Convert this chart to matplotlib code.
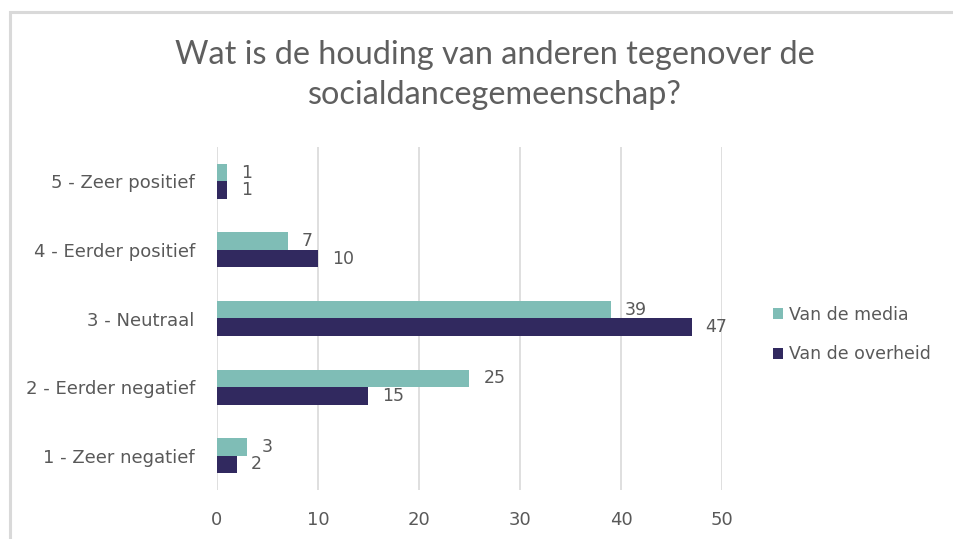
import matplotlib
matplotlib.use("Agg")
import matplotlib.pyplot as plt
from matplotlib.patches import Rectangle
import numpy as np

categories = ["1 - Zeer negatief", "2 - Eerder negatief", "3 - Neutraal",
              "4 - Eerder positief", "5 - Zeer positief"]
media = [3, 25, 39, 7, 1]
overheid = [2, 15, 47, 10, 1]
series_names = ["Van de media", "Van de overheid"]
xticks = [0, 10, 20, 30, 40, 50]

TEAL = "#7fbdb6"
NAVY = "#31295f"
GREY = "#595959"

plt.rcParams["font.family"] = ["DejaVu Sans"]

fig = plt.figure(figsize=(9.54, 5.39), dpi=100)
fig.patches.append(Rectangle((10 / 954, -0.1), 1.2, 1 - 12 / 539 + 0.1,
                             transform=fig.transFigure, fill=False,
                             edgecolor="#d9d9d9", lw=2.2))

ax = fig.add_axes([217 / 954, 1 - 490 / 539, 505 / 954, 343 / 539])
y = np.arange(len(categories))
h = 0.255
b1 = ax.barh(y + h / 2, media, height=h, color=TEAL, label=series_names[0])
b2 = ax.barh(y - h / 2, overheid, height=h, color=NAVY, label=series_names[1])

for bars, vals in ((b1, media), (b2, overheid)):
    for bar, v in zip(bars, vals):
        ax.annotate(str(v), (v, bar.get_y() + bar.get_height() / 2),
                    xytext=(10, 0), textcoords="offset points",
                    ha="left", va="center", fontsize=12.5, color=GREY)

ax.set_xlim(0, 50)
ax.set_ylim(-0.5, len(categories) - 0.5)
ax.set_yticks(y)
ax.set_yticklabels(categories)
ax.set_xticks(xticks)
ax.tick_params(axis="both", length=0, labelsize=13, colors=GREY)
ax.tick_params(axis="y", pad=16)
ax.tick_params(axis="x", pad=15)
for s in ax.spines.values():
    s.set_visible(False)
ax.grid(axis="x", color="#d9d9d9", lw=1.2)
ax.set_axisbelow(True)

handles, labels = ax.get_legend_handles_labels()
fig.legend(handles, labels, loc="upper left", bbox_to_anchor=(757 / 954, 1 - 290 / 539),
           frameon=False, fontsize=12.5, labelcolor=GREY, handlelength=0.6,
           handleheight=0.6, handletextpad=0.35, labelspacing=1.25)

fig.text(495 / 954, 1 - 75 / 539,
         "Wat is de houding van anderen tegenover de\nsocialdancegemeenschap?",
         ha="center", va="center", fontsize=23.3, color="#5f5f5f", linespacing=1.42,
         family=["Lato", "DejaVu Sans"])

fig.savefig("out.png", dpi=100)
